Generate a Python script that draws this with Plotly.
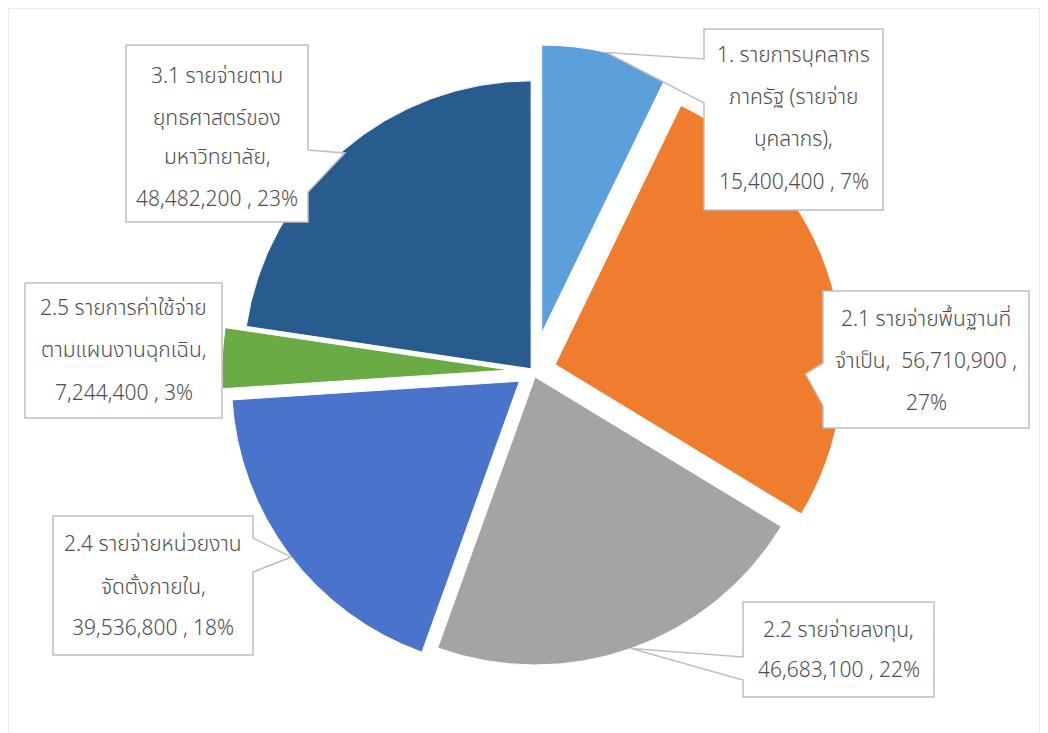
"""Exploded budget pie with Excel-style callout labels (Thai)."""

import math

import plotly.graph_objects as go

# ---- data ---------------------------------------------------------------

LABEL_LINES = [
    ["1. รายการบุคลากร", "ภาครัฐ (รายจ่าย", "บุคลากร),", "15,400,400 , 7%"],
    ["2.1 รายจ่ายพื้นฐานที่", "จำเป็น,  56,710,900 ,", "27%"],
    ["2.2 รายจ่ายลงทุน,", "46,683,100 , 22%"],
    ["2.4 รายจ่ายหน่วยงาน", "จัดตั้งภายใน,", "39,536,800 , 18%"],
    ["2.5 รายการค่าใช้จ่าย", "ตามแผนงานฉุกเฉิน,", "7,244,400 , 3%"],
    ["3.1 รายจ่ายตาม", "ยุทธศาสตร์ของ", "มหาวิทยาลัย,", "48,482,200 , 23%"],
]
CATEGORIES = [
    "1. รายการบุคลากรภาครัฐ (รายจ่ายบุคลากร)",
    "2.1 รายจ่ายพื้นฐานที่จำเป็น",
    "2.2 รายจ่ายลงทุน",
    "2.4 รายจ่ายหน่วยงานจัดตั้งภายใน",
    "2.5 รายการค่าใช้จ่ายตามแผนงานฉุกเฉิน",
    "3.1 รายจ่ายตามยุทธศาสตร์ของมหาวิทยาลัย",
]
VALUES = [15400400, 56710900, 46683100, 39536800, 7244400, 48482200]
COLORS = ["#5b9fdb", "#f07d2e", "#a4a4a4", "#4a74cb", "#6aab45", "#295c8e"]

# ---- layout config (page pixels, y down) --------------------------------

W, H = 1048, 733
OFF = 8                      # page body margin around the plot div
CX, CY, R = 533, 371, 288
PULL = [0.135, 0.08, 0.022, 0.059, 0.08, 0.01]

# callout box (x0, y0, x1, y1), line centre ys, wedge side / base ys, tip (frac in slice, radius factor)
CALLOUTS = [
    dict(box=(704, 29, 883, 210), ys=[56, 98, 139, 183], side="left", base=(59, 103), tip=(0.5, 1.0)),
    dict(box=(823, 291, 1029, 428), ys=[319, 361, 403], side="left", base=(363, 406), tip=(0.695, 0.87)),
    dict(box=(743, 602, 934, 697), ys=[630, 670], side="left", base=(657, 680), tip=(0.5, 1.0)),
    dict(box=(53, 516, 253, 655), ys=[544, 587, 628], side="right", base=(538, 572), tip=(0.49, 1.0)),
    dict(box=(25, 283, 222, 418), ys=[308, 350, 393], side=None, base=None, tip=None),
    dict(box=(126, 45, 308, 222), ys=[77, 118, 158, 200], side="right", base=(150, 192), tip=(0.5, 0.99)),
]

FONT = "Noto Sans Thai, Tahoma, Noto Sans, DejaVu Sans, sans-serif"
TEXT_COLOR = "#4d4d4d"
BORDER = "#bfbfbf"


def px(x, y):
    return (x - OFF) / W, 1 - (y - OFF) / H


def unit(deg):
    a = math.radians(deg)
    return math.sin(a), -math.cos(a)


# ---- pie ----------------------------------------------------------------

ry = R * (1 + max(PULL))
cxf, cyf = CX - OFF, CY - OFF
dom_x = [(cxf - ry * 1.2) / W, (cxf + ry * 1.2) / W]
dom_y = [1 - (cyf + ry) / H, 1 - (cyf - ry) / H]

fig = go.Figure(go.Pie(
    labels=CATEGORIES, values=VALUES, sort=False, direction="clockwise", rotation=0,
    pull=PULL, marker=dict(colors=COLORS, line=dict(color="white", width=1)),
    textinfo="none", hoverinfo="label+value+percent",
    domain=dict(x=dom_x, y=dom_y), showlegend=False,
))

# slice angles from the data, used to aim the callout pointers
total = sum(VALUES)
starts, acc = [], 0.0
for v in VALUES:
    starts.append(acc / total * 360)
    acc += v
spans = [v / total * 360 for v in VALUES]

bx0, by1 = px(8, 8)
bx1, _ = px(1040, 8)
shapes = [dict(type="rect", xref="paper", yref="paper", x0=bx0, x1=bx1, y0=-0.02, y1=by1,
               line=dict(color="#d9d9d9", width=1), fillcolor="rgba(0,0,0,0)", layer="below")]
annotations = []

for i, (c, lines) in enumerate(zip(CALLOUTS, LABEL_LINES)):
    x0, y0, x1, y1 = c["box"]
    if c["side"]:
        mid = starts[i] + spans[i] / 2
        ox, oy = unit(mid)
        vx, vy = CX + PULL[i] * R * ox, CY + PULL[i] * R * oy
        frac, f = c["tip"]
        ux, uy = unit(starts[i] + frac * spans[i])
        tx, ty = vx + f * R * ux, vy + f * R * uy
        b1, b2 = c["base"]
        if c["side"] == "left":
            pts = [(x0, y0), (x1, y0), (x1, y1), (x0, y1), (x0, b2), (tx, ty), (x0, b1)]
        else:
            pts = [(x0, y0), (x1, y0), (x1, b1), (tx, ty), (x1, b2), (x1, y1), (x0, y1)]
    else:
        pts = [(x0, y0), (x1, y0), (x1, y1), (x0, y1)]
    path = "M " + " L ".join("%.5f,%.5f" % px(x, y) for x, y in pts) + " Z"
    shapes.append(dict(type="path", path=path, xref="paper", yref="paper",
                       fillcolor="white", line=dict(color=BORDER, width=1.5), layer="above"))
    for text, y in zip(lines, c["ys"]):
        ax, ay = px((x0 + x1) / 2, y)
        annotations.append(dict(text=text, x=ax, y=ay, xref="paper", yref="paper",
                                xanchor="center", yanchor="middle", showarrow=False,
                                font=dict(family=FONT, size=21, color=TEXT_COLOR, weight=300)))

fig.update_layout(
    width=W, height=H, margin=dict(l=0, r=0, t=0, b=0),
    paper_bgcolor="white", plot_bgcolor="white",
    shapes=shapes, annotations=annotations,
)

fig.write_html("out.html")
